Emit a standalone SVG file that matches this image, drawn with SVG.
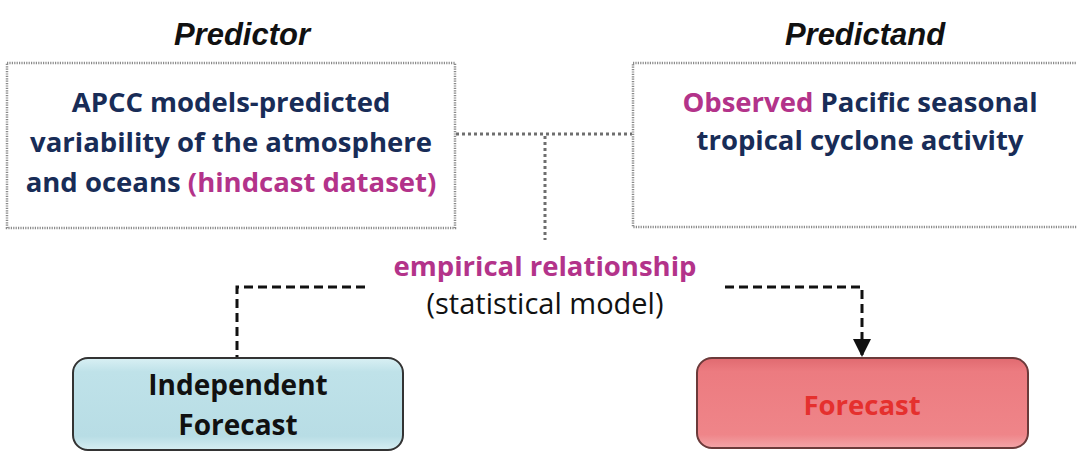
<svg xmlns="http://www.w3.org/2000/svg" width="1077" height="451" viewBox="0 0 1077 451">
<style>
.h{font-family:"Liberation Sans",Arial,sans-serif;font-weight:bold;font-style:italic;font-size:31px;fill:#111;text-anchor:middle}
.t{font-family:"Open Sans","Liberation Sans",Arial,sans-serif;font-weight:bold;font-size:27.5px;fill:#182c57;text-anchor:middle}
.m{fill:#b3338a}
.frame{fill:#fff;stroke:#8a8a8a;stroke-width:2.5;stroke-dasharray:1.2 1.2}
.dot{fill:none;stroke:#6e6e6e;stroke-width:3;stroke-dasharray:3 3}
.dash{fill:none;stroke:#111;stroke-width:3;stroke-dasharray:9 5}
</style>
<defs>
<linearGradient id="gb" x1="0" y1="0" x2="0" y2="1">
<stop offset="0" stop-color="#d9f0f4"/><stop offset="0.15" stop-color="#bfe2e9"/><stop offset="0.85" stop-color="#b8dde5"/><stop offset="1" stop-color="#d6eef2"/>
</linearGradient>
<linearGradient id="gr" x1="0" y1="0" x2="0" y2="1">
<stop offset="0" stop-color="#e06a70"/><stop offset="0.15" stop-color="#ec7b80"/><stop offset="0.85" stop-color="#ef8589"/><stop offset="1" stop-color="#f3a5a8"/>
</linearGradient>
<marker id="ah" viewBox="0 0 10 10" refX="10" refY="5" markerWidth="6" markerHeight="7" markerUnits="strokeWidth" orient="auto">
<path d="M0,0 L10,5 L0,10 Z" fill="#111"/>
</marker>
</defs>
<text class="h" x="242" y="45">Predictor</text>
<text class="h" x="865" y="45">Predictand</text>
<g id="connectors">
<path class="dot" d="M456,134 H632"/>
<path class="dot" d="M545,136 V240"/>
<path class="dash" d="M365,287 H237 V357"/>
<path class="dash" d="M725,287 H862 V357" marker-end="url(#ah)"/>
</g>
<g id="predictor">
<rect class="frame" x="7" y="63" width="448" height="165"/>
<text class="t" x="231" y="112">APCC models-predicted</text>
<text class="t" x="231" y="152">variability of the atmosphere</text>
<text class="t" x="231" y="192">and oceans <tspan class="m">(hindcast dataset)</tspan></text>
</g>
<g id="predictand">
<rect class="frame" x="633" y="63" width="460" height="164"/>
<text class="t" x="860" y="112"><tspan class="m">Observed</tspan> Pacific seasonal</text>
<text class="t" x="860" y="150">tropical cyclone activity</text>
</g>
<g id="relationship">
<text class="t m" x="545" y="276" style="fill:#b3338a">empirical relationship</text>
<text x="545" y="314" style="font-family:'Open Sans','Liberation Sans',Arial,sans-serif;font-size:29px;fill:#111;text-anchor:middle">(statistical model)</text>
</g>
<g id="independent">
<rect x="73" y="358" width="330" height="92" rx="15" fill="url(#gb)" stroke="#333" stroke-width="2"/>
<text class="t" x="238" y="395" style="fill:#111;font-size:28px">Independent</text>
<text class="t" x="238" y="435" style="fill:#111;font-size:28px">Forecast</text>
</g>
<g id="forecast">
<rect x="697" y="358" width="331" height="90" rx="15" fill="url(#gr)" stroke="#6b3a3a" stroke-width="2"/>
<text class="t" x="862" y="415" style="fill:#e5302e">Forecast</text>
</g>
</svg>
